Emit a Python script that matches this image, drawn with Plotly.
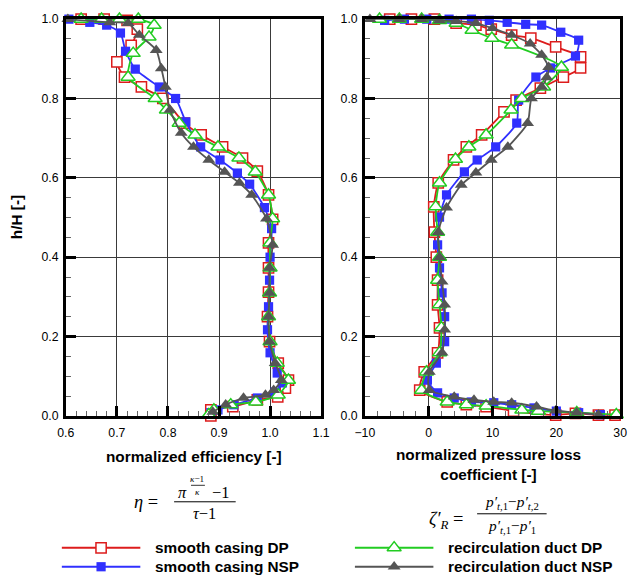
import plotly.graph_objects as go

# The page is photographed slightly reduced and offset by the body margin;
# layout positions below are given in photographed pixels and mapped back.
S = 0.977          # page -> picture scale
OX, OY = 8, 7      # body offset of the plot div (page px)
W, H = 646, 590    # figure size (page px)

# ---------------- data: spanwise distributions (h/H) ----------------
# normalized efficiency
eff_sc_dp_h = [1.0, 1.0, 0.997, 0.975, 0.934, 0.892, 0.854, 0.829, 0.80, 0.738,
               0.708, 0.678, 0.65, 0.617, 0.557, 0.495, 0.436, 0.373, 0.312, 0.25,
               0.187, 0.133, 0.09, 0.07, 0.048, 0.04, 0.023, 0.015, 0.0]
eff_sc_dp = [0.63, 0.675, 0.72, 0.74, 0.728, 0.70, 0.715, 0.748, 0.79, 0.832,
             0.865, 0.907, 0.946, 0.975, 0.997, 1.005, 0.997, 0.997, 0.997, 0.995,
             0.999, 1.016, 1.036, 1.03, 1.015, 0.975, 0.927, 0.884, 0.884]

eff_sc_nsp_h = [1.0, 0.992, 0.985, 0.965, 0.919, 0.874, 0.829, 0.80, 0.741, 0.678,
                0.645, 0.612, 0.584, 0.525, 0.472, 0.40, 0.342, 0.275, 0.217, 0.159,
                0.108, 0.083, 0.06, 0.045, 0.028, 0.015, 0.008]
eff_sc_nsp = [0.606, 0.647, 0.68, 0.707, 0.717, 0.736, 0.783, 0.815, 0.835, 0.864,
              0.902, 0.936, 0.96, 0.989, 1.003, 1.0, 0.999, 0.997, 0.995, 1.0,
              1.014, 1.024, 1.01, 0.975, 0.929, 0.898, 0.884]

eff_rd_dp_h = [1.0, 1.0, 1.0, 1.0, 0.985, 0.955, 0.914, 0.854, 0.80, 0.771,
               0.738, 0.708, 0.678, 0.65, 0.615, 0.557, 0.497, 0.436, 0.373, 0.31,
               0.25, 0.187, 0.133, 0.09, 0.053, 0.035, 0.028, 0.015, 0.003]
eff_rd_dp = [0.63, 0.67, 0.705, 0.742, 0.773, 0.763, 0.732, 0.722, 0.775, 0.797,
             0.822, 0.853, 0.898, 0.939, 0.971, 0.997, 1.005, 1.0, 1.0, 0.999,
             0.997, 1.0, 1.014, 1.036, 1.016, 0.972, 0.923, 0.89, 0.88]

eff_rd_nsp_h = [1.0, 0.992, 0.99, 0.96, 0.922, 0.876, 0.829, 0.771, 0.713, 0.678,
                0.645, 0.615, 0.587, 0.557, 0.497, 0.431, 0.373, 0.31, 0.25, 0.187,
                0.133, 0.09, 0.065, 0.053, 0.045, 0.028, 0.01]
eff_rd_nsp = [0.604, 0.686, 0.722, 0.744, 0.777, 0.787, 0.795, 0.804, 0.826, 0.85,
              0.88, 0.911, 0.94, 0.964, 0.993, 1.005, 0.999, 0.999, 0.997, 0.999,
              1.01, 1.022, 1.007, 0.991, 0.948, 0.913, 0.888]

# normalized pressure loss coefficient
zeta_sc_dp_h = [1.0, 1.0, 1.0, 0.99, 0.985, 0.975, 0.96, 0.952, 0.93, 0.905,
                0.877, 0.854, 0.826, 0.796, 0.766, 0.708, 0.678, 0.645, 0.587, 0.527,
                0.463, 0.40, 0.342, 0.28, 0.222, 0.159, 0.111, 0.065, 0.035, 0.028,
                0.023, 0.012, 0.002, 0.006, 0.002, 0.002]
zeta_sc_dp = [-6.1, -2.7, 0.9, 4.3, 7.4, 9.8, 13.0, 16.0, 19.9, 23.8,
              23.8, 21.1, 17.5, 13.7, 11.8, 8.3, 5.9, 3.9, 1.5, 0.8,
              0.9, 1.2, 1.4, 1.4, 1.7, 1.4, -0.7, -1.4, 2.9, 5.9,
              9.0, 13.3, 19.9, 23.0, 26.6, 29.2]

zeta_sc_nsp_h = [0.997, 1.0, 1.0, 1.0, 1.0, 0.997, 0.992, 0.987, 0.985, 0.967,
                 0.947, 0.907, 0.877, 0.854, 0.796, 0.738, 0.678, 0.645, 0.615, 0.557,
                 0.501, 0.431, 0.373, 0.31, 0.25, 0.187, 0.133, 0.09, 0.058, 0.045,
                 0.035, 0.033, 0.028, 0.02, 0.012, 0.008, 0.003]
zeta_sc_nsp = [-6.9, -3.8, -0.3, 3.2, 6.7, 9.5, 12.3, 15.2, 17.7, 20.7,
               23.5, 23.0, 19.1, 16.8, 14.1, 13.8, 10.5, 7.6, 5.6, 2.8,
               1.7, 1.4, 1.7, 2.1, 2.5, 2.5, 1.2, -0.2, 1.4, 4.0,
               6.7, 10.2, 13.0, 16.5, 20.0, 23.5, 26.9]

zeta_rd_dp_h = [1.0, 1.0, 1.0, 0.997, 0.99, 0.972, 0.952, 0.935, 0.879, 0.829,
                0.80, 0.771, 0.708, 0.678, 0.647, 0.587, 0.527, 0.463, 0.40, 0.342,
                0.28, 0.222, 0.159, 0.111, 0.065, 0.035, 0.028, 0.025, 0.015, 0.012,
                0.008, 0.003]
zeta_rd_dp = [-7.7, -4.6, -1.1, 1.7, 4.3, 6.8, 9.9, 13.0, 20.8, 18.0,
              14.6, 12.9, 9.0, 6.3, 4.2, 1.7, 1.1, 1.4, 1.7, 1.4,
              1.7, 2.0, 1.7, -0.35, -1.1, 2.9, 5.9, 9.0, 14.6, 17.2,
              23.2, 29.4]

zeta_rd_nsp_h = [1.0, 1.0, 1.0, 0.997, 0.995, 0.99, 0.977, 0.96, 0.938, 0.91,
                 0.879, 0.853, 0.829, 0.80, 0.738, 0.678, 0.645, 0.613, 0.582, 0.525,
                 0.463, 0.40, 0.338, 0.28, 0.217, 0.159, 0.111, 0.065, 0.048, 0.04,
                 0.035, 0.033, 0.023, 0.013, 0.008, 0.003]
zeta_rd_nsp = [-9.2, -4.6, -1.1, 1.7, 4.3, 7.4, 10.0, 13.0, 15.9, 17.7,
               18.8, 18.5, 17.7, 16.1, 15.5, 12.4, 9.8, 7.4, 5.1, 2.8,
               1.5, 1.7, 2.1, 2.5, 2.5, 2.1, 0.1, 0.1, 4.0, 7.1,
               10.2, 13.0, 16.9, 19.9, 23.2, 26.6]

series_names = ["smooth casing DP", "smooth casing NSP",
                "recirculation duct DP", "recirculation duct NSP"]


def fs(size):
    """font/marker size compensated for the page scale"""
    return size / S


# ---------------- styles ----------------
RED, BLUE, GREEN, GRAY = "#dd1c1c", "#3030ff", "#22cc22", "#555555"
styles = [
    dict(color=RED, marker=dict(symbol="square", size=fs(10), color="white",
                                line=dict(color=RED, width=1.5))),
    dict(color=BLUE, marker=dict(symbol="square", size=fs(9), color=BLUE,
                                 line=dict(color=BLUE, width=0))),
    dict(color=GREEN, marker=dict(symbol="triangle-up", size=fs(12), color="white",
                                  line=dict(color=GREEN, width=1.5))),
    dict(color=GRAY, marker=dict(symbol="triangle-up", size=fs(11), color=GRAY,
                                 line=dict(color=GRAY, width=0))),
]

eff_sets = [(eff_sc_dp, eff_sc_dp_h), (eff_sc_nsp, eff_sc_nsp_h),
            (eff_rd_dp, eff_rd_dp_h), (eff_rd_nsp, eff_rd_nsp_h)]
zeta_sets = [(zeta_sc_dp, zeta_sc_dp_h), (zeta_sc_nsp, zeta_sc_nsp_h),
             (zeta_rd_dp, zeta_rd_dp_h), (zeta_rd_nsp, zeta_rd_nsp_h)]

fig = go.Figure()

for (xv, hv), st, nm in zip(eff_sets, styles, series_names):
    fig.add_trace(go.Scatter(x=xv, y=hv, mode="lines+markers", name=nm,
                             line=dict(color=st["color"], width=1.8, shape="spline", smoothing=0.6),
                             marker=st["marker"], cliponaxis=False, showlegend=False,
                             xaxis="x", yaxis="y"))
for (xv, hv), st, nm in zip(zeta_sets, styles, series_names):
    fig.add_trace(go.Scatter(x=xv, y=hv, mode="lines+markers", name=nm,
                             line=dict(color=st["color"], width=1.8, shape="spline", smoothing=0.6),
                             marker=st["marker"], cliponaxis=False, showlegend=False,
                             xaxis="x2", yaxis="y2"))


# picture-pixel -> paper coordinates
def pxx(x):
    return (x / S - OX) / W


def pyy(y):
    return 1 - (y / S - OY) / H


# ---------------- legend keys (hidden picture-pixel axis below the panels) ----------------
LEG_TOP = 530
key_cols = [(60, 139), (355, 434)]
key_rows = [548, 567]
key_slots = [(0, 0), (0, 1), (1, 0), (1, 1)]   # (column, row) per series
for (c, r), st, nm in zip(key_slots, styles, series_names):
    x0, x1 = key_cols[c]
    y = key_rows[r]
    fig.add_trace(go.Scatter(x=[x0, (x0 + x1) / 2, x1], y=[y, y, y], mode="lines",
                             line=dict(color=st["color"], width=1.8), showlegend=False,
                             xaxis="x3", yaxis="y3", hoverinfo="skip"))
    fig.add_trace(go.Scatter(x=[(x0 + x1) / 2], y=[y], mode="markers",
                             marker=st["marker"], showlegend=False, cliponaxis=False,
                             xaxis="x3", yaxis="y3", hoverinfo="skip"))
    fig.add_annotation(x=x1 + 13, y=y, xref="x3", yref="y3", text="<b>%s</b>" % nm,
                       showarrow=False, xanchor="left", yanchor="middle",
                       font=dict(family="Liberation Sans, Arial", size=fs(15), color="black"))

# ---------------- axes ----------------
tickfont = dict(family="Liberation Sans, Arial", size=fs(12), color="black")
common = dict(showgrid=True, gridcolor="#3a3a3a", gridwidth=1, zeroline=False,
              showline=True, linecolor="black", linewidth=2.5, mirror=True,
              ticks="inside", ticklen=10, tickwidth=2.5, tickcolor="black",
              tickfont=tickfont)
minor_style = dict(ticks="inside", ticklen=5, tickcolor="#666", tickwidth=1, showgrid=False)

ydom = [pyy(416), pyy(19)]
fig.update_layout(
    xaxis=dict(domain=[pxx(64), pxx(321)], range=[0.6, 1.1], dtick=0.1, tickformat=".1f",
               minor=dict(dtick=0.02, **minor_style), anchor="y", ticklabelstandoff=4,
               **common),
    yaxis=dict(domain=ydom, range=[0, 1], dtick=0.2, tickformat=".1f",
               minor=dict(dtick=0.05, **minor_style), anchor="x", ticklabelstandoff=2,
               **common),
    xaxis2=dict(domain=[pxx(365), pxx(622)], range=[-10, 30], dtick=10,
                minor=dict(dtick=2, **minor_style), anchor="y2", ticklabelstandoff=4,
                **common),
    yaxis2=dict(domain=ydom, range=[0, 1], dtick=0.2, tickformat=".1f",
                minor=dict(dtick=0.05, **minor_style), anchor="x2", ticklabelstandoff=2,
                **common),
    xaxis3=dict(domain=[0, 1], range=[OX * S, (W + OX) * S], visible=False,
                fixedrange=True, anchor="y3"),
    yaxis3=dict(domain=[0, pyy(LEG_TOP)], range=[(H + OY) * S, LEG_TOP], visible=False,
                fixedrange=True, anchor="x3"),
    width=W, height=H, autosize=False,
    margin=dict(l=0, r=0, t=0, b=0),
    paper_bgcolor="white", plot_bgcolor="rgba(0,0,0,0)",
    showlegend=False,
)

# ---------------- titles ----------------
title_font = dict(family="Liberation Sans, Arial", size=fs(15), color="black")


def ann(x, y, s, font, angle=0, anchor="center", vanchor="middle"):
    fig.add_annotation(x=pxx(x), y=pyy(y), xref="paper", yref="paper", text=s,
                       textangle=angle, showarrow=False, xanchor=anchor, yanchor=vanchor,
                       borderpad=0, font=font)


ann(14, 217, "<b>h/H [-]</b>", title_font, angle=-90)
ann(193, 457, "<b>normalized efficiency [-]</b>", title_font)
ann(489, 465, "<b>normalized pressure loss<br>coefficient [-]</b>", title_font)

# ---------------- formulas ----------------
serif = "Liberation Serif, Times New Roman, serif"


def txt(x, y, s, size=16, vanchor="middle"):
    ann(x, y, s, dict(family=serif, size=fs(size), color="black"), vanchor=vanchor)


def bar(x0, x1, y, w=1):
    fig.add_shape(type="line", xref="paper", yref="paper", x0=pxx(x0), x1=pxx(x1),
                  y0=pyy(y), y1=pyy(y), line=dict(color="black", width=w))


# efficiency definition
txt(145, 502, "<i>η</i> =", 18)
bar(173, 235, 502)
txt(181, 493, "<i>π</i>", 16)
txt(197, 485, "<i>κ</i>−1", 9, vanchor="bottom")
bar(190, 204, 485.5, 0.8)
txt(197, 486, "<i>κ</i>", 9, vanchor="top")
txt(220, 493, "−1", 16)
txt(204, 514, "<i>τ</i>−1", 16)

# pressure loss coefficient definition
txt(447, 521, "<i>ζ′</i><sub><i>R</i></sub> =", 18)
bar(478, 548, 514)
txt(513, 503, "<i>p′</i><sub><i>t</i>,1</sub>−<i>p′</i><sub><i>t</i>,2</sub>", 15)
txt(513, 527, "<i>p′</i><sub><i>t</i>,1</sub>−<i>p′</i><sub>1</sub>", 15)

fig.write_html("out.html")
